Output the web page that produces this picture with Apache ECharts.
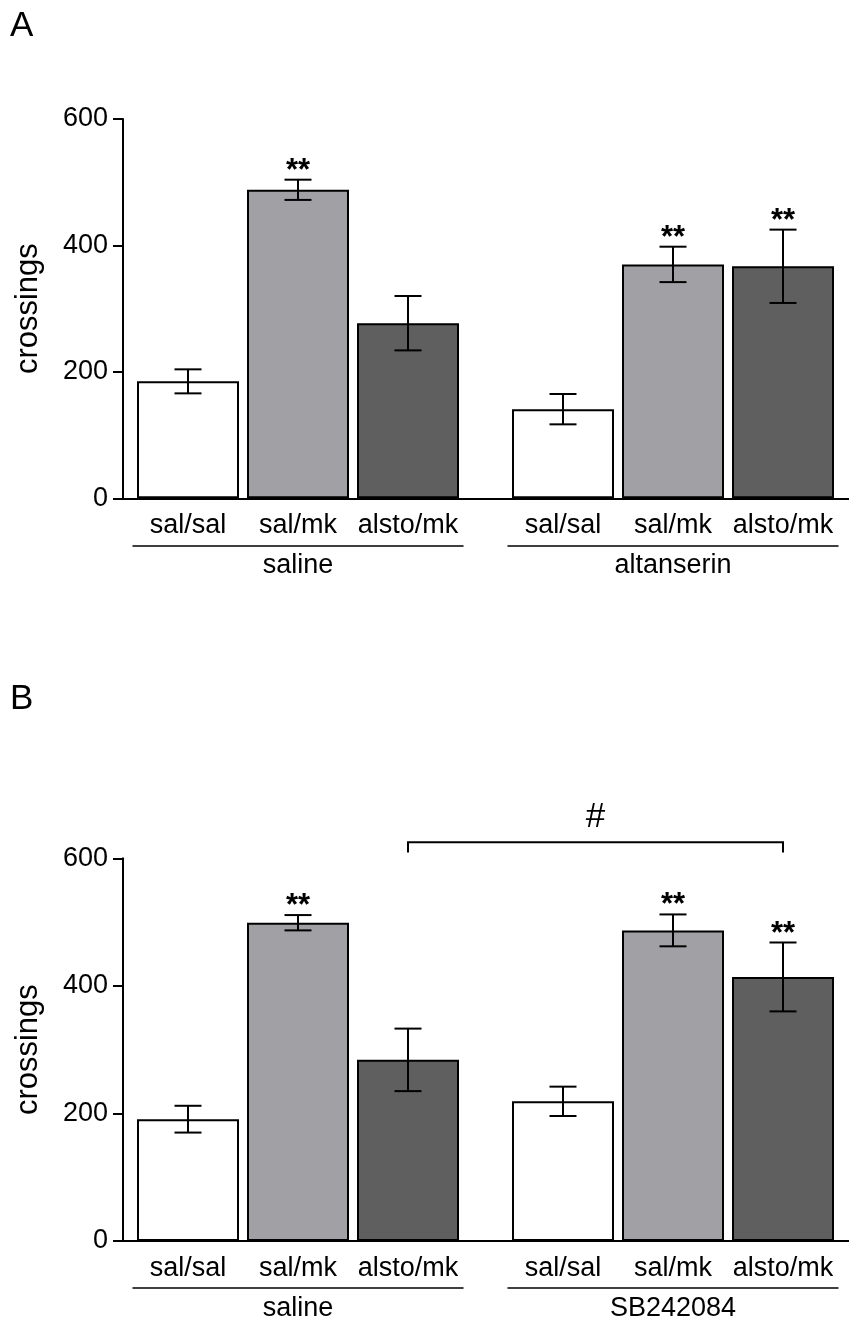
<!DOCTYPE html>
<html>
<head>
<meta charset="utf-8">
<script src="https://cdn.jsdelivr.net/npm/echarts@6/dist/echarts.min.js"></script>
<style>
  html, body { margin: 0; padding: 0; background: #ffffff; }
  #chart { width: 849px; height: 1324px; }
</style>
</head>
<body>
<div id="chart"></div>
<script>
// ---- data ----
const treatments = ['sal/sal', 'sal/mk', 'alsto/mk'];
const yTicks = [0, 200, 400, 600];
const yLabel = 'crossings';

const groupsA = ['saline', 'altanserin'];
const meanA_saline = [185, 488, 277];
const semA_saline = [19, 16, 43];
const sigA_saline = ['', '**', ''];
const meanA_altanserin = [141, 370, 367];
const semA_altanserin = [24, 28, 58];
const sigA_altanserin = ['', '**', '**'];

const groupsB = ['saline', 'SB242084'];
const meanB_saline = [191, 499, 284];
const semB_saline = [21, 12, 49];
const sigB_saline = ['', '**', ''];
const meanB_SB242084 = [219, 487, 414];
const semB_SB242084 = [23, 25, 54];
const sigB_SB242084 = ['', '**', '**'];

// between-group comparison in panel B (alsto/mk, saline vs SB242084)
const bracketLabelB = '#';
const bracketLevelB = 625;
const bracketDropB = 16;

// ---- styling ----
const FONT = '"Liberation Sans", Arial, Helvetica, sans-serif';
const barColors = ['#ffffff', '#a1a1a5', '#5f5f5f'];
const LABEL_SIZE = 27;

const panels = [
  { tag: 'A', tagTop: 9, top: 119, height: 379.3,
    groups: groupsA,
    means: [meanA_saline, meanA_altanserin],
    sems: [semA_saline, semA_altanserin],
    sigs: [sigA_saline, sigA_altanserin] },
  { tag: 'B', tagTop: 682, top: 858.3, height: 382.7,
    groups: groupsB,
    means: [meanB_saline, meanB_SB242084],
    sems: [semB_saline, semB_SB242084],
    sigs: [sigB_saline, sigB_SB242084] }
];
const groupLeft = [133, 508];
const groupWidth = 330;

const grids = [], xAxes = [], yAxes = [], series = [];
const barSeriesIndex = []; // [panel][group]

function errorBarRenderer(sig) {
  return function (params, api) {
    const x = api.value(0), m = api.value(1), e = api.value(2);
    const hi = api.coord([x, m + e]);
    const lo = api.coord([x, m - e]);
    const half = 13.5;
    const line = { stroke: '#000', lineWidth: 2 };
    const children = [
      { type: 'line', shape: { x1: hi[0], y1: hi[1], x2: lo[0], y2: lo[1] }, style: line },
      { type: 'line', shape: { x1: hi[0] - half, y1: hi[1], x2: hi[0] + half, y2: hi[1] }, style: line },
      { type: 'line', shape: { x1: lo[0] - half, y1: lo[1], x2: lo[0] + half, y2: lo[1] }, style: line }
    ];
    const s = sig[params.dataIndex];
    if (s) {
      children.push({
        type: 'text', x: hi[0], y: hi[1] + 7,
        style: { text: s, align: 'center', verticalAlign: 'bottom', fill: '#000',
                 fontSize: 31, fontWeight: 'bold', fontFamily: FONT }
      });
    }
    return { type: 'group', children: children };
  };
}

panels.forEach(function (p, pi) {
  const bottom = 1324 - p.top - p.height;
  // base grid: y axis and continuous baseline
  const gBase = grids.length;
  grids.push({ left: 123, right: 0, top: p.top, bottom: bottom });
  xAxes.push({ gridIndex: gBase, type: 'category', data: [''],
    axisLine: { show: true, lineStyle: { color: '#000', width: 2 } },
    axisTick: { show: false }, axisLabel: { show: false }, splitLine: { show: false } });
  yAxes.push({ gridIndex: gBase, type: 'value', min: yTicks[0], max: yTicks[yTicks.length - 1],
    interval: yTicks[1] - yTicks[0],
    name: yLabel, nameLocation: 'middle', nameGap: 79,
    nameTextStyle: { fontSize: 31, color: '#000', fontFamily: FONT },
    axisLine: { show: true, lineStyle: { color: '#000', width: 2 } },
    axisTick: { show: true, length: 10, lineStyle: { color: '#000', width: 2 } },
    axisLabel: { fontSize: LABEL_SIZE, color: '#000', margin: 15, fontFamily: FONT },
    splitLine: { show: false } });

  barSeriesIndex.push([]);
  p.groups.forEach(function (gName, gi) {
    const g = grids.length;
    grids.push({ left: groupLeft[gi], width: groupWidth, top: p.top, bottom: bottom });
    const xi = xAxes.length;
    xAxes.push({ gridIndex: g, type: 'category', data: treatments,
      axisLine: { show: false }, axisTick: { show: false },
      axisLabel: { interval: 0, fontSize: LABEL_SIZE, color: '#000', margin: 14, fontFamily: FONT } });
    xAxes.push({ gridIndex: g, type: 'category', data: [gName], position: 'bottom', offset: 47,
      axisLine: { show: true, lineStyle: { color: '#000', width: 1.5 } }, axisTick: { show: false },
      axisLabel: { interval: 0, fontSize: LABEL_SIZE, color: '#000', margin: 7, fontFamily: FONT } });
    const yi = yAxes.length;
    yAxes.push({ gridIndex: g, type: 'value', min: yTicks[0], max: yTicks[yTicks.length - 1], show: false });

    barSeriesIndex[pi].push(series.length);
    series.push({
      type: 'bar', xAxisIndex: xi, yAxisIndex: yi, barWidth: 102, silent: true,
      data: p.means[gi].map(function (v, k) {
        return { value: v, itemStyle: { color: barColors[k] } };
      }),
      itemStyle: { borderColor: '#000', borderWidth: 2 }
    });
    series.push({
      type: 'custom', xAxisIndex: xi, yAxisIndex: yi, silent: true, z: 5,
      renderItem: errorBarRenderer(p.sigs[gi]),
      data: p.means[gi].map(function (v, k) { return [k, v, p.sems[gi][k]]; })
    });
  });
});

const chart = echarts.init(document.getElementById('chart'), null, { renderer: 'canvas' });
chart.setOption({
  animation: false,
  backgroundColor: '#ffffff',
  textStyle: { fontFamily: FONT },
  grid: grids, xAxis: xAxes, yAxis: yAxes, series: series
});

// panel tags and the comparison bracket, placed through the axes' scales
const graphics = panels.map(function (p) {
  return { type: 'text', left: 10, top: p.tagTop,
    style: { text: p.tag, fontSize: 35, fill: '#000', fontFamily: FONT } };
});
const a = chart.convertToPixel({ seriesIndex: barSeriesIndex[1][0] }, [2, bracketLevelB]);
const b = chart.convertToPixel({ seriesIndex: barSeriesIndex[1][1] }, [2, bracketLevelB]);
const d = chart.convertToPixel({ seriesIndex: barSeriesIndex[1][1] }, [2, bracketLevelB - bracketDropB]);
graphics.push({ type: 'polyline', shape: { points: [[a[0], d[1]], [a[0], a[1]], [b[0], b[1]], [b[0], d[1]]] },
  style: { stroke: '#000', lineWidth: 2, fill: null } });
graphics.push({ type: 'text', x: (a[0] + b[0]) / 2, y: a[1] - 8,
  style: { text: bracketLabelB, align: 'center', verticalAlign: 'bottom', fontSize: 35,
           fill: '#000', fontFamily: FONT } });
chart.setOption({ graphic: graphics });
</script>
</body>
</html>
